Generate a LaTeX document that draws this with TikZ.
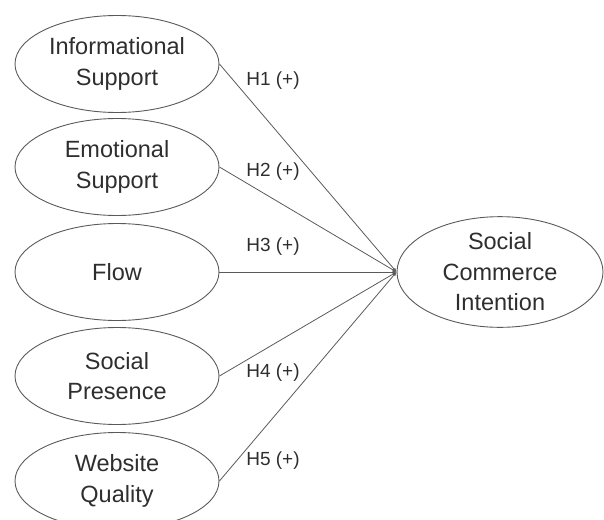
\documentclass[tikz,border=0pt]{standalone}
\usepackage{fontspec}
\setmainfont{Liberation Sans}
\usetikzlibrary{shapes.geometric,arrows.meta}
\definecolor{edgegray}{HTML}{5A5A5A}
\definecolor{txtgray}{HTML}{2E2E2E}
\tikzset{
  construct/.style={ellipse, draw=edgegray, line width=0.9pt, minimum width=204pt, minimum height=97pt, inner sep=0pt, align=center, text=txtgray, font=\fontsize{23.5}{30.5}\selectfont},
  outcome/.style={construct, minimum width=206pt, minimum height=110pt},
  path/.style={draw=edgegray, line width=0.8pt, -{Latex[length=4pt,width=3.5pt]}},
  hyp/.style={text=txtgray, font=\fontsize{19}{22}\selectfont, inner sep=0pt}
}
\begin{document}
\begin{tikzpicture}[x=1pt,y=-1pt]
\useasboundingbox (0,0) rectangle (604,519);
\begin{scope}
\clip (0,0) rectangle (604,519);
\node[construct] (info) at (117,64) {Informational\\Support};
\node[construct] (emo) at (117,167) {Emotional\\Support};
\node[construct] (flow) at (117,272) {Flow};
\node[construct] (soc) at (117,376) {Social\\Presence};
\node[construct] (web) at (117,481) {Website\\Quality};
\node[outcome] (sci) at (500,272) {Social\\Commerce\\Intention};
\coordinate (tip) at (sci.west);
\draw[path] (info.east) -- (tip);
\draw[path] (emo.east) -- (tip);
\draw[path] (flow.east) -- (tip);
\draw[path] (soc.east) -- (tip);
\draw[path] (web.east) -- (tip);
\node[hyp] (h1) at (273,81) {H1 (+)};
\node[hyp] (h2) at (273,172) {H2 (+)};
\node[hyp] (h3) at (273,247) {H3 (+)};
\node[hyp] (h4) at (273,373) {H4 (+)};
\node[hyp] (h5) at (273,461) {H5 (+)};
\end{scope}
\end{tikzpicture}
\end{document}
